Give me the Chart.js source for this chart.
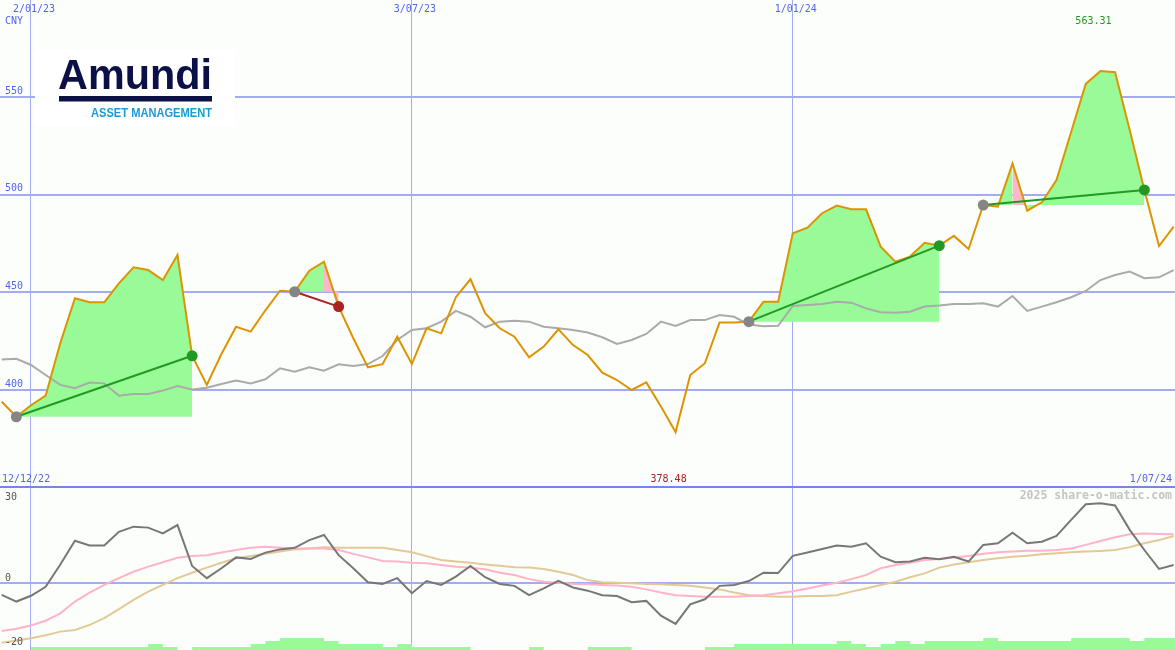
<!DOCTYPE html>
<html><head><meta charset="utf-8">
<script src="https://cdn.jsdelivr.net/npm/chart.js@4.4.1/dist/chart.umd.min.js"></script>
<style>
html,body{margin:0;padding:0;background:#fcfefc;}
#wrap{position:relative;width:1175px;height:650px;overflow:hidden;background:#fcfefc}
#top{position:absolute;left:0;top:0}
#bot{position:absolute;left:0;top:488px}
</style></head><body>
<div id="wrap"><canvas id="top" width="1175" height="488"></canvas><canvas id="bot" width="1175" height="162"></canvas></div>
<script>
// ---------- data (weekly, index 0 = 19 Dec 2022) ----------
const currency = 'CNY';
const gridDates = ['2/01/23', '3/07/23', '1/01/24'];
const gridDateIdx = [2, 28, 54];
const startLabel = '12/12/22';
const endLabel = '1/07/24';
const priceTicks = [400, 450, 500, 550];
const oscTicks = [30, 0, -20];
const watermark = '2025 share-o-matic.com';

const price = [394.0, 386.3, 392.2, 397.1, 424.0, 447.0, 444.9, 444.9, 454.6, 462.8,
  461.4, 456.3, 469.1, 417.5, 402.6, 418.4, 432.4, 429.9, 440.8, 450.8,
  450.3, 461.1, 465.7, 442.7, 426.5, 411.6, 413.2, 427.3, 413.3, 431.6,
  429.0, 447.5, 456.7, 439.3, 431.6, 427.3, 416.7, 422.2, 431.1, 423.0,
  417.9, 408.9, 405.1, 400.0, 403.9, 391.5, 378.48, 407.7, 413.7, 434.5,
  434.5, 435.0, 445.2, 445.2, 480.2, 483.1, 490.5, 494.4, 492.5, 492.5,
  473.4, 465.7, 468.3, 475.4, 473.9, 478.9, 472.2, 494.7, 493.9, 516.0,
  491.8, 496.1, 507.5, 532.1, 556.7, 563.31, 562.7, 533.1, 502.4, 473.7, 483.6];

const avg = [415.6, 416.0, 412.8, 407.7, 402.6, 400.9, 403.8, 403.4, 397.1, 398.0,
  398.0, 399.7, 402.0, 400.3, 401.2, 403.1, 404.8, 403.4, 405.5, 411.1,
  409.4, 411.6, 409.9, 413.2, 412.3, 413.3, 417.4, 425.6, 430.7, 431.6,
  435.0, 440.5, 437.5, 432.1, 435.0, 435.5, 435.0, 432.4, 431.6, 430.7,
  429.4, 427.0, 423.6, 425.6, 428.7, 435.0, 432.8, 435.8, 435.8, 438.4,
  437.5, 433.5, 432.6, 432.9, 443.0, 443.5, 444.0, 445.2, 444.7, 441.8,
  439.8, 439.6, 440.1, 442.7, 443.2, 444.0, 444.0, 444.4, 442.7, 448.1,
  440.5, 442.7, 444.9, 447.5, 450.7, 456.3, 458.9, 460.6, 457.2, 457.7, 461.4];

const osc = [-3.6, -5.7, -3.9, -1.1, 5.9, 13.3, 11.8, 11.8, 16.1, 17.7,
  17.4, 15.6, 18.2, 5.4, 1.6, 4.7, 8.1, 7.6, 9.6, 10.6,
  11.1, 13.5, 15.1, 8.8, 4.7, 0.3, -0.2, 1.6, -3.1, 0.7,
  -0.5, 2.1, 5.4, 1.9, -0.2, -0.8, -3.7, -1.6, 0.8, -1.3,
  -2.3, -3.7, -4.0, -5.9, -5.5, -10.1, -12.7, -6.6, -5.0, -0.8,
  -0.5, 0.7, 3.3, 3.2, 8.6, 9.6, 10.7, 11.8, 11.4, 12.5,
  8.3, 6.6, 6.8, 8.0, 7.5, 8.3, 6.8, 12.0, 12.5, 15.8,
  12.5, 13.0, 14.8, 19.8, 24.7, 25.0, 24.3, 16.7, 10.4, 4.5, 5.7];

const oscSignal = [-14.9, -14.2, -13.2, -11.7, -9.4, -5.7, -2.9, -0.5, 1.6, 3.6,
  5.2, 6.6, 8.0, 8.5, 8.8, 9.6, 10.4, 11.1, 11.4, 11.1,
  10.9, 10.9, 10.9, 10.4, 9.2, 8.1, 7.0, 6.8, 6.4, 6.3,
  5.7, 5.2, 4.9, 4.4, 3.3, 2.6, 1.3, 0.5, 0.2, -0.2,
  -0.3, -0.5, -0.7, -1.1, -1.9, -2.9, -3.7, -4.0, -4.2, -4.2,
  -4.2, -4.0, -3.7, -3.1, -2.5, -1.6, -0.7, 0.2, 1.3, 2.6,
  4.7, 5.7, 6.4, 7.3, 7.6, 8.1, 8.5, 9.2, 9.7, 9.9,
  10.2, 10.2, 10.4, 10.9, 12.0, 13.2, 14.4, 15.3, 15.6, 15.4, 15.3];

const oscSlow = [-18.6, -17.9, -17.2, -16.2, -15.1, -14.6, -13.0, -10.9, -8.1, -5.2,
  -2.6, -0.5, 1.6, 3.3, 4.9, 6.4, 7.8, 8.5, 9.2, 9.9,
  10.6, 10.9, 11.3, 11.1, 11.1, 11.1, 11.1, 10.4, 9.7, 8.5,
  7.3, 6.8, 6.4, 5.9, 5.5, 5.0, 4.9, 4.5, 3.6, 2.6,
  1.0, 0.3, 0.2, 0.0, -0.2, -0.3, -0.5, -0.8, -1.3, -1.9,
  -2.9, -3.7, -4.0, -4.2, -4.2, -4.0, -4.0, -3.7, -2.6, -1.6,
  -0.5, 0.5, 1.9, 3.1, 4.9, 5.9, 6.6, 7.3, 7.8, 8.3,
  8.6, 9.1, 9.4, 9.7, 9.9, 10.1, 10.4, 11.3, 12.5, 13.5, 14.8];

const volLevel = [0, 0, 0, 1, 1, 1, 1, 1, 1, 1,
  1, 2, 1, 0, 1, 1, 1, 1, 2, 3,
  4, 4, 4, 3, 2, 2, 2, 1, 2, 1,
  1, 1, 1, 0, 0, 0, 0, 1, 0, 0,
  0, 1, 1, 1, 0, 0, 0, 0, 0, 1,
  1, 2, 2, 2, 2, 2, 2, 2, 3, 2,
  1, 2, 3, 2, 3, 3, 3, 3, 4, 3,
  3, 3, 3, 3, 4, 4, 4, 4, 3, 4, 4];

// trade signals: start index (grey dot) -> end index (green = gain / red = loss)
const tradeStart = [1, 20, 51, 67];
const tradeEnd = [13, 23, 64, 78];
const pinkSegs = [[22, 23], [69, 70]];

// ---------- styles ----------
const BG = '#fcfefc';
const GRID = '#a3acf0';
const SEP = '#7585ea';
const TXT_BLUE = '#5464ee';
const ORANGE = '#dc9400';
const GREY_MA = '#aaaaaa';
const FILL_G = '#98fb98';
const FILL_P = '#ffb6c6';
const DK_GREEN = '#229922';
const DK_RED = '#aa2222';
const MARK_GREY = '#858585';
const X_MIN = -0.116, X_MAX = 80.09;
const MONO = '"DejaVu Sans Mono", monospace';

const idx = price.map((_, i) => i);
const pts = (arr, a = 0, b = arr.length - 1) => idx.slice(a, b + 1).map(i => ({x: i, y: arr[i]}));

// ---------- top chart ----------
const topSets = [];
tradeStart.forEach((s, t) => {
  const e = tradeEnd[t];
  const base = price[s];
  const cuts = [s];
  pinkSegs.forEach(([a, b]) => { if (a >= s && b <= e) cuts.push(a, b); });
  cuts.push(e);
  for (let i = 0; i < cuts.length - 1; i++) {
    const a = cuts[i], b = cuts[i + 1];
    if (b <= a) continue;
    const pink = pinkSegs.some(([p, q]) => p === a && q === b);
    topSets.push({data: pts(price, a, b), fill: {value: base}, backgroundColor: pink ? FILL_P : FILL_G,
      borderColor: 'rgba(0,0,0,0)', borderWidth: 0, pointRadius: 0, order: 10});
  }
});
topSets.push({data: pts(avg), borderColor: GREY_MA, borderWidth: 2, pointRadius: 0, fill: false, order: 8});
topSets.push({data: pts(price), borderColor: ORANGE, borderWidth: 2, pointRadius: 0, fill: false, order: 6});
tradeStart.forEach((s, t) => {
  const e = tradeEnd[t];
  const win = price[e] >= price[s];
  topSets.push({data: [{x: s, y: price[s]}, {x: e, y: price[e]}], borderColor: win ? DK_GREEN : DK_RED,
    borderWidth: 2, pointRadius: 0, fill: false, order: 4});
});
const markPts = [], markCols = [];
tradeStart.forEach((s, t) => {
  const e = tradeEnd[t];
  markPts.push({x: s, y: price[s]}); markCols.push(MARK_GREY);
  markPts.push({x: e, y: price[e]}); markCols.push(price[e] >= price[s] ? DK_GREEN : DK_RED);
});
topSets.push({data: markPts, showLine: false, pointRadius: 5.5, pointBorderWidth: 0,
  pointBackgroundColor: markCols, pointBorderColor: markCols, order: 2});

function vGrid(ctx, chart) {
  const x = chart.scales.x;
  ctx.lineWidth = 1; ctx.strokeStyle = GRID;
  gridDateIdx.forEach(i => {
    const px = Math.floor(x.getPixelForValue(i)) + 0.5;
    ctx.beginPath(); ctx.moveTo(px, 0); ctx.lineTo(px, chart.height); ctx.stroke();
  });
}

const topPlugin = {
  id: 'topDecor',
  beforeDraw(chart) {
    const ctx = chart.ctx;
    ctx.save(); ctx.fillStyle = BG; ctx.fillRect(0, 0, chart.width, chart.height); ctx.restore();
  },
  beforeDatasetsDraw(chart) {
    const {ctx, scales: {y}} = chart;
    ctx.save();
    vGrid(ctx, chart);
    ctx.lineWidth = 2; ctx.strokeStyle = GRID;
    priceTicks.forEach(v => {
      const py = Math.round(y.getPixelForValue(v));
      ctx.beginPath(); ctx.moveTo(0, py); ctx.lineTo(chart.width, py); ctx.stroke();
    });
    ctx.restore();
  },
  afterDatasetsDraw(chart) {
    const {ctx, scales: {x, y}} = chart;
    ctx.save();
    // separator
    ctx.fillStyle = SEP; ctx.fillRect(0, 486, chart.width, 2);
    // logo
    ctx.fillStyle = '#ffffff'; ctx.fillRect(35, 50, 200, 76);
    ctx.fillStyle = '#0b1147';
    ctx.font = 'bold 43px "Liberation Sans", Arial, sans-serif';
    ctx.textBaseline = 'alphabetic'; ctx.textAlign = 'left';
    let w = ctx.measureText('Amundi').width;
    ctx.save(); ctx.translate(58, 89); ctx.scale(154 / w, 1); ctx.fillText('Amundi', 0, 0); ctx.restore();
    ctx.fillRect(59, 96, 153, 5.5);
    ctx.fillStyle = '#1b9ad8';
    ctx.font = 'bold 13px "Liberation Sans", Arial, sans-serif';
    w = ctx.measureText('ASSET MANAGEMENT').width;
    ctx.save(); ctx.translate(91, 116.5); ctx.scale(121 / w, 1); ctx.fillText('ASSET MANAGEMENT', 0, 0); ctx.restore();

    // texts
    ctx.font = '10px ' + MONO;
    ctx.textBaseline = 'middle';
    ctx.fillStyle = TXT_BLUE;
    ctx.textAlign = 'center';
    gridDateIdx.forEach((i, n) => ctx.fillText(gridDates[n], x.getPixelForValue(i) + 3, 9));
    ctx.textAlign = 'left';
    ctx.fillText(currency, 5, 21);
    priceTicks.forEach(v => ctx.fillText(String(v), 5, y.getPixelForValue(v) - 6));
    ctx.fillText(startLabel, 2, 479);
    ctx.textAlign = 'right';
    ctx.fillText(endLabel, 1172, 479);
    // max / min
    let mx = 0, mn = 0;
    price.forEach((v, i) => { if (v > price[mx]) mx = i; if (v < price[mn]) mn = i; });
    ctx.textAlign = 'center';
    ctx.fillStyle = DK_GREEN;
    ctx.fillText(price[mx].toFixed(2), x.getPixelForValue(mx) - 7, 21);
    ctx.fillStyle = DK_RED;
    ctx.fillText(price[mn].toFixed(2), x.getPixelForValue(mn) - 7, 479);
    ctx.restore();
  }
};

new Chart(document.getElementById('top'), {
  type: 'line',
  data: {datasets: topSets},
  options: {
    responsive: false, animation: false, devicePixelRatio: 1, events: [],
    layout: {padding: 0, autoPadding: false},
    elements: {line: {tension: 0}},
    plugins: {legend: {display: false}, tooltip: {enabled: false}},
    scales: {
      x: {type: 'linear', min: X_MIN, max: X_MAX, display: false},
      y: {type: 'linear', min: 349.83, max: 599.66, display: false}
    }
  },
  plugins: [topPlugin]
});

// ---------- bottom chart ----------
const volPts = pts(volLevel);
volPts.push({x: volLevel.length, y: volLevel[volLevel.length - 1]});
const botSets = [
  {data: volPts, yAxisID: 'yv', stepped: 'after', fill: 'origin', backgroundColor: FILL_G,
    borderColor: 'rgba(0,0,0,0)', borderWidth: 0, pointRadius: 0, order: 10},
  {data: pts(oscSlow), borderColor: '#e3c996', borderWidth: 2, pointRadius: 0, fill: false, order: 7},
  {data: pts(oscSignal), borderColor: '#ffb3c6', borderWidth: 2, pointRadius: 0, fill: false, order: 6},
  {data: pts(osc), borderColor: '#777777', borderWidth: 2, pointRadius: 0, fill: false, order: 4}
];

const botPlugin = {
  id: 'botDecor',
  beforeDraw(chart) {
    const ctx = chart.ctx;
    ctx.save(); ctx.fillStyle = BG; ctx.fillRect(0, 0, chart.width, chart.height); ctx.restore();
  },
  beforeDatasetsDraw(chart) {
    const {ctx, scales: {y}} = chart;
    ctx.save();
    vGrid(ctx, chart);
    ctx.lineWidth = 2; ctx.strokeStyle = GRID;
    const py = Math.round(y.getPixelForValue(0));
    ctx.beginPath(); ctx.moveTo(0, py); ctx.lineTo(chart.width, py); ctx.stroke();
    ctx.restore();
  },
  afterDatasetsDraw(chart) {
    const {ctx, scales: {y}} = chart;
    ctx.save();
    ctx.font = '10px ' + MONO; ctx.textBaseline = 'middle'; ctx.textAlign = 'left';
    ctx.fillStyle = '#555555';
    oscTicks.forEach(v => {
      let py = y.getPixelForValue(v) - 5;
      py = Math.max(9, Math.min(chart.height - 8, py));
      ctx.fillText(String(v), 5, py);
    });
    ctx.font = 'bold 11.5px ' + MONO; ctx.textAlign = 'right'; ctx.fillStyle = '#c4c4c4';
    ctx.fillText(watermark, 1172, 8);
    ctx.restore();
  }
};

new Chart(document.getElementById('bot'), {
  type: 'line',
  data: {datasets: botSets},
  options: {
    responsive: false, animation: false, devicePixelRatio: 1, events: [],
    layout: {padding: 0, autoPadding: false},
    elements: {line: {tension: 0}},
    plugins: {legend: {display: false}, tooltip: {enabled: false}},
    scales: {
      x: {type: 'linear', min: X_MIN, max: X_MAX, display: false},
      y: {type: 'linear', min: -20.84, max: 29.78, display: false},
      yv: {type: 'linear', min: 0, max: 54, display: false}
    }
  },
  plugins: [botPlugin]
});
</script>
</body></html>
